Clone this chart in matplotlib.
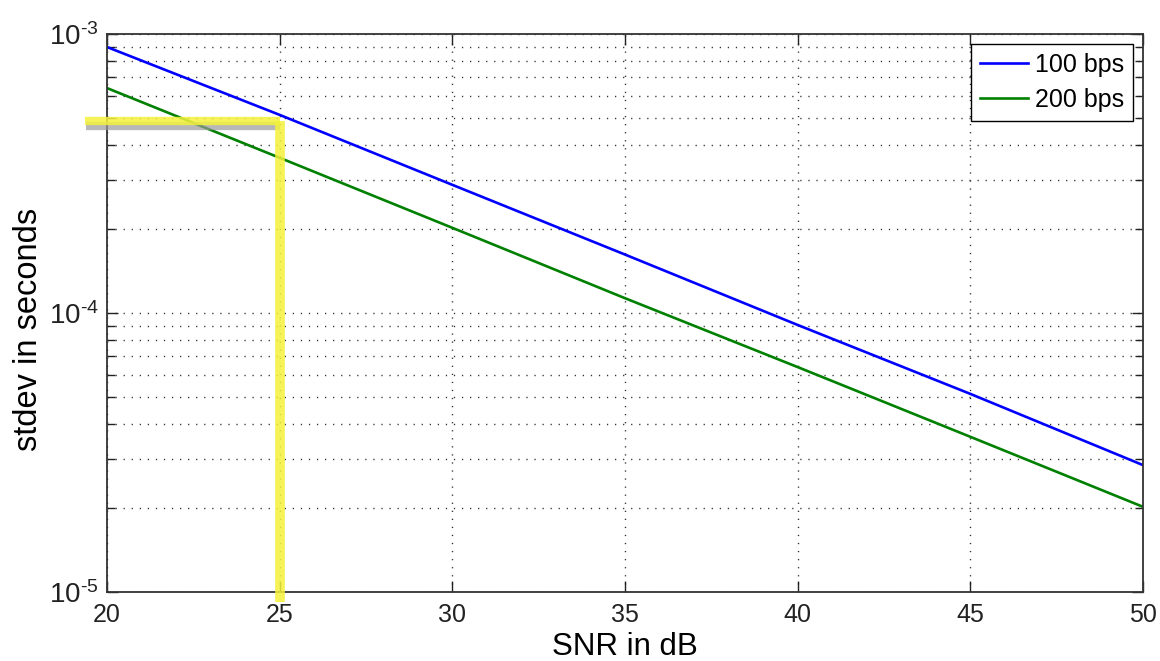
import matplotlib
matplotlib.use("Agg")
import matplotlib.pyplot as plt
import matplotlib.patheffects as pe
import numpy as np
from matplotlib.ticker import LogLocator, FixedLocator, NullFormatter, FuncFormatter

plt.rcParams['font.family'] = ['Liberation Sans', 'DejaVu Sans']
plt.rcParams['mathtext.fontset'] = 'custom'
plt.rcParams['mathtext.rm'] = 'Liberation Sans'
plt.rcParams['mathtext.default'] = 'regular'
plt.rcParams['axes.unicode_minus'] = False

# timing jitter vs. SNR for two bit rates
snr_db = [20, 25, 30, 35, 40, 45, 50]
stdev_100bps = [8.98e-4, 5.13e-4, 2.88e-4, 1.62e-4, 9.06e-5, 5.13e-5, 2.85e-5]
stdev_200bps = [6.40e-4, 3.60e-4, 2.02e-4, 1.13e-4, 6.40e-5, 3.60e-5, 2.02e-5]
series_labels = ['100 bps', '200 bps']

# operating point marked by the highlight
mark_snr = 25
mark_stdev = 4.88e-4
mark_left = 19.36
mark_bottom = 9.2e-6

xticks = [20, 25, 30, 35, 40, 45, 50]


def pow10_label(v, pos):
    # MATLAB-style exponent with a plain hyphen
    e = int(round(np.log10(v)))
    return r'$10^{\text{-%d}}$' % -e if e < 0 else r'$10^{%d}$' % e


fig = plt.figure(figsize=(11.6, 6.61), dpi=100)
ax = fig.add_axes([0.0922, 0.1044, 0.8931, 0.8442])

ax.plot(snr_db, stdev_100bps, color=(0, 0, 1), lw=1.9, label=series_labels[0])
ax.plot(snr_db, stdev_200bps, color=(0, 0.5, 0), lw=1.9, label=series_labels[1])

ax.set_yscale('log')
ax.set_xlim(20, 50)
ax.set_ylim(1e-5, 1e-3)
ax.xaxis.set_major_locator(FixedLocator(xticks))
ax.yaxis.set_major_locator(LogLocator(base=10, numticks=10))
ax.yaxis.set_major_formatter(FuncFormatter(pow10_label))
ax.yaxis.set_minor_locator(LogLocator(base=10, subs=range(2, 10), numticks=20))
ax.yaxis.set_minor_formatter(NullFormatter())

grid_kw = dict(color='#303030', lw=1.0, linestyle=(0, (0.9, 4.9)))
ax.grid(True, which='major', axis='both', **grid_kw)
ax.grid(True, which='minor', axis='y', **grid_kw)

ax.tick_params(which='both', direction='in', top=True, right=True,
               labelsize=18, colors='#222222', width=1.0)
ax.tick_params(which='major', length=8, pad=8)
ax.tick_params(which='minor', length=6)
ax.tick_params(axis='y', which='major', labelsize=20, pad=6)
for sp in ax.spines.values():
    sp.set_linewidth(1.3)
    sp.set_color('#333333')

ax.set_xlabel('SNR in dB', fontsize=22.5, va='baseline')
ax.xaxis.set_label_coords(0.5, -0.113)
ax.set_ylabel('stdev in seconds', fontsize=23.5, va='center')
ax.yaxis.set_label_coords(-0.076, 0.47)

# highlighted operating point with drop shadow
shadow = [pe.SimpleLineShadow(offset=(0.5, -4), shadow_color='#9a9a9a', alpha=0.7),
          pe.Normal()]
ax.plot([mark_left, mark_snr], [mark_stdev, mark_stdev], color='#f4f23a',
        lw=6, alpha=0.85, solid_capstyle='butt', clip_on=False, path_effects=shadow,
        zorder=4)
ax.plot([mark_snr, mark_snr], [mark_stdev, mark_bottom], color='#f4f23a',
        lw=7, alpha=0.85, solid_capstyle='butt', clip_on=False, zorder=4)

leg = ax.legend(loc='upper right', fontsize=18, handlelength=1.9,
                fancybox=False, framealpha=1, edgecolor='black',
                borderaxespad=0.4, handletextpad=0.3, labelspacing=0.45,
                borderpad=0.35)
leg.get_frame().set_linewidth(1.0)

fig.savefig('out.png', dpi=100)
